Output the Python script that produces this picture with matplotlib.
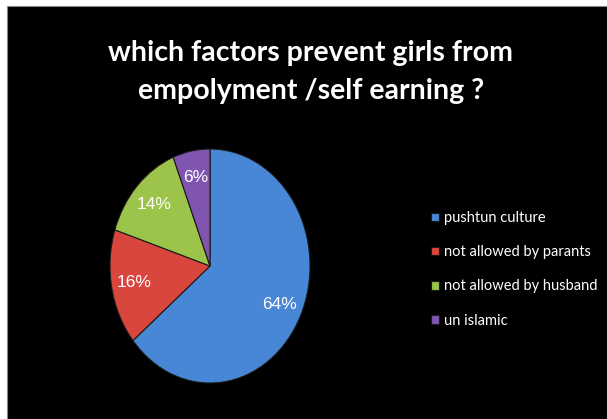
import matplotlib
matplotlib.use("Agg")
import matplotlib.pyplot as plt
from matplotlib.patches import Rectangle

categories = ["pushtun culture", "not allowed by parants",
              "not allowed by husband", "un islamic"]
shares = [64, 16, 14, 6]
colors = ["#4886d6", "#d9463e", "#9cc44a", "#7f55b0"]
title = "which factors prevent girls from\nempolyment /self earning ?"

fig = plt.figure(figsize=(6.07, 4.19), dpi=100)
fig.patch.set_facecolor("white")

# black slide panel
fig.add_artist(Rectangle((7 / 607, 0), 600 / 607, 413 / 419,
                         transform=fig.transFigure, facecolor="black",
                         edgecolor="#888888", lw=0.8, zorder=0))

fig.text(0.512, 0.828, title, ha="center", va="center", color="white",
         fontsize=20.5, fontweight="bold", family="Lato",
         linespacing=1.6)

# pie drawn in an axes that is taller than wide (stretched ellipse)
ax = fig.add_axes([110 / 607, 1 - 383 / 419, 200 / 607, 234 / 419])
ax.set_facecolor("none")
wedges, texts, autotexts = ax.pie(
    shares, colors=colors, startangle=90, counterclock=False,
    autopct=lambda p: f"{p:.0f}%", pctdistance=0.77,
    wedgeprops=dict(edgecolor="#1a1a1a", linewidth=0.8),
    textprops=dict(color="white", fontsize=12.5, family="Liberation Sans"))
ax.set_aspect("auto")
ax.set_xlim(-1.0, 1.0)
ax.set_ylim(-1.0, 1.0)
ax.axis("off")

leg = fig.legend(wedges, categories, loc="upper left",
                 bbox_to_anchor=(418 / 607, 1 - 198 / 419),
                 frameon=False, handlelength=0.55, handleheight=0.55,
                 handletextpad=0.35, labelspacing=1.38,
                 prop=dict(family="Lato", size=10.5))
for t in leg.get_texts():
    t.set_color("white")

fig.savefig("out.png", dpi=100, facecolor=fig.get_facecolor())
